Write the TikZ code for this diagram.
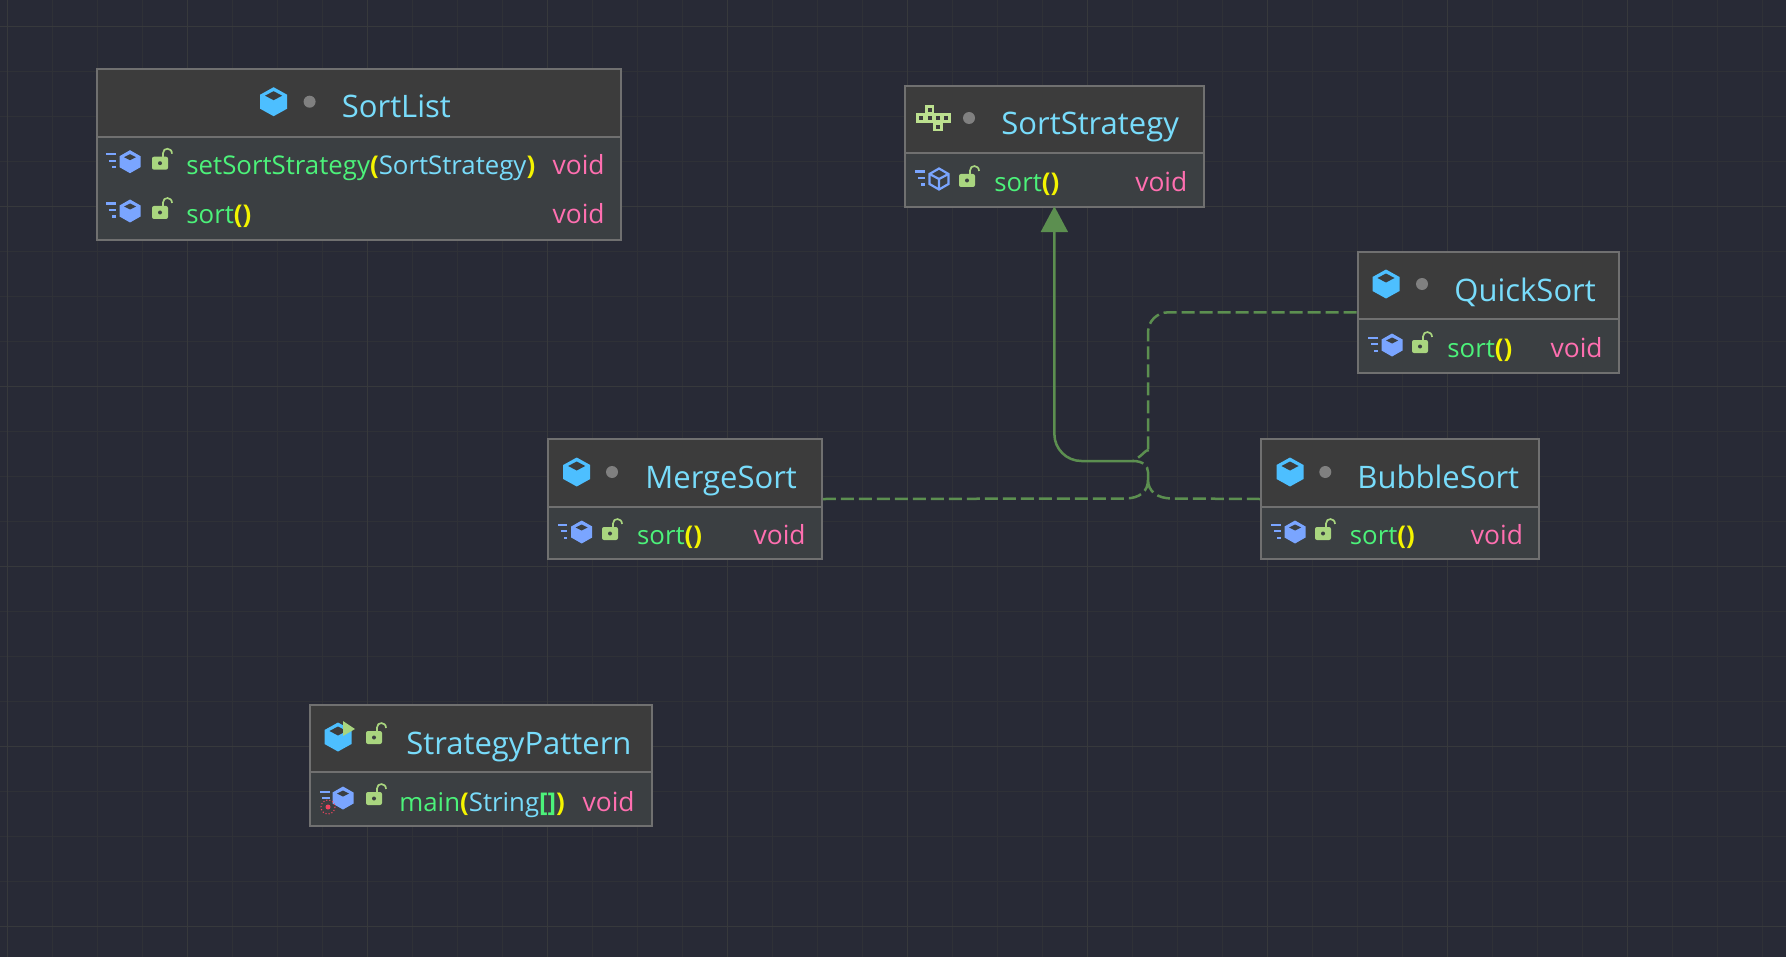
\documentclass[tikz,border=0pt]{standalone}
\usepackage{fontspec}
\setmainfont{Open Sans}
\usetikzlibrary{arrows.meta,fit}
\definecolor{bgc}{HTML}{282A36}
\definecolor{gridminor}{HTML}{2F3137}
\definecolor{gridmajor}{HTML}{37393C}
\definecolor{headc}{HTML}{3C3C3C}
\definecolor{bodyc}{HTML}{3B3F42}
\definecolor{borderc}{HTML}{707070}
\definecolor{namec}{HTML}{78DCFB}
\definecolor{methc}{HTML}{4CF27A}
\definecolor{voidc}{HTML}{FF6FB0}
\definecolor{yelc}{HTML}{F4F400}
\definecolor{edgec}{HTML}{5C8F50}
\definecolor{cubec}{HTML}{4DBFFF}
\definecolor{mcubec}{HTML}{7AA5FF}
\definecolor{lockc}{HTML}{A9D57F}
\definecolor{ifacec}{HTML}{BCE08F}
\definecolor{dotc}{HTML}{808080}
\definecolor{redc}{HTML}{F0445F}
\tikzset{
  x=0.5pt,y=-0.5pt,
  boxstyle/.style={draw=borderc,line width=1.15pt,inner sep=0pt,rectangle},
  titletext/.style={text=namec,font=\fontsize{15.5}{18}\selectfont,anchor=base west,inner sep=0pt,xshift=-0.5pt},
  rowtext/.style={text=methc,font=\fontsize{12.9}{16}\selectfont,anchor=base west,inner sep=0pt,xshift=-0.5pt,yshift=-0.5pt},
  voidtext/.style={text=voidc,font=\fontsize{13.2}{16}\selectfont,anchor=base east,inner sep=0pt,xshift=0.5pt,yshift=-0.5pt},
  edgeline/.style={draw=edgec,line width=1.25pt},
  dashedge/.style={edgeline,dash pattern=on 6.5pt off 2.5pt},
  classcube/.pic={
    \fill[cubec] (0,-14.5)--(13.5,-7)--(13.5,7)--(0,14.5)--(-13.5,7)--(-13.5,-7)--cycle;
    \fill[headc] (0,-10.5)--(8.5,-6)--(0,-1.5)--(-8.5,-6)--cycle;
  },
  graydot/.pic={\fill[dotc] (0,0) circle[radius=6];},
  bars/.pic={
    \fill[mcubec] (-24,-8.5) rectangle (-14.5,-6.2);
    \fill[mcubec] (-21,-2) rectangle (-14.5,0.3);
    \fill[mcubec] (-18,4.5) rectangle (-14.5,6.8);
  },
  methcube/.pic={
    \fill[mcubec] (0,-11.5)--(10.5,-5.5)--(10.5,5.5)--(0,11.5)--(-10.5,5.5)--(-10.5,-5.5)--cycle;
    \fill[bodyc] (0,-7.5)--(6,-4.5)--(0,-1.5)--(-6,-4.5)--cycle;
  },
  abscube/.pic={
    \draw[mcubec,line width=1.1pt] (0,-10.5)--(9.5,-5)--(9.5,5)--(0,10.5)--(-9.5,5)--(-9.5,-5)--cycle;
    \draw[mcubec,line width=1.1pt] (-9.5,-5)--(0,0)--(9.5,-5) (0,0)--(0,10.5);
  },
  lockicon/.pic={
    \draw[lockc,line width=0.85pt] (3,-5) -- (3,-9.5) .. controls (3,-15.5) and (12,-15.5) .. (12,-9);
    \fill[lockc,rounded corners=1pt] (-8,-6) rectangle (8,7);
    \fill[bodyc] (0,0.5) circle[radius=2];
  },
}
\newcommand{\classbox}[6]{% name,l,t,r,b,div
  \fill[bodyc] (#2,#3) rectangle (#4,#5);
  \fill[headc] (#2,#3) rectangle (#4,#6);
  \draw[borderc,line width=1.1pt] (#2,#6) -- (#4,#6);
  \coordinate (#1tl) at (#2,#3);
  \coordinate (#1br) at (#4,#5);
  \node[boxstyle,fit=(#1tl)(#1br)] (#1) {};
}
\newcommand{\callparens}{{\bfseries\color{yelc}()}}
\begin{document}
\begin{tikzpicture}
\useasboundingbox (0,0) rectangle (1786,957);
\fill[bgc] (0,0) rectangle (1786,957);
% grid
\foreach \k in {0,...,39} {
  \pgfmathsetmacro{\gx}{7.7+45*\k}
  \draw[gridminor,line width=0.5pt] (\gx,0) -- (\gx,957);
}
\foreach \k in {0,...,21} {
  \pgfmathsetmacro{\gy}{26.7+45*\k}
  \draw[gridminor,line width=0.5pt] (0,\gy) -- (1786,\gy);
}
\foreach \k in {0,...,9} {
  \pgfmathsetmacro{\gx}{7.7+180*\k}
  \draw[gridmajor,line width=0.5pt] (\gx,0) -- (\gx,957);
}
\foreach \k in {0,...,5} {
  \pgfmathsetmacro{\gy}{26.7+180*\k}
  \draw[gridmajor,line width=0.5pt] (0,\gy) -- (1786,\gy);
}
% boxes
\classbox{sortlist}{97}{69}{621}{240}{136.7}
\classbox{strategy}{904.7}{85.7}{1204}{206.7}{153}
\classbox{quick}{1357.7}{252}{1618.7}{372.7}{319}
\classbox{merge}{547.7}{439}{821.7}{559}{506.7}
\classbox{bubble}{1261}{439}{1539}{559}{506.7}
\classbox{pattern}{310}{705}{652}{826}{772}
% SortList
\pic at (273.6,101.7) {classcube};
\pic at (309.6,101.7) {graydot};
\node[titletext] (sortlisttitle) at (342.5,117.7) {SortList};
\pic at (130,161.7) {bars};
\pic at (130,161.7) {methcube};
\pic at (160,162.7) {lockicon};
\node[rowtext] (sortlistm1) at (187,174) {setSortStrategy{\bfseries\color{yelc}(}{\color{namec}SortStrategy}{\bfseries\color{yelc})}};
\node[voidtext] (sortlistv1) at (604,174) {void};
\pic at (130,211) {bars};
\pic at (130,211) {methcube};
\pic at (160,212) {lockicon};
\node[rowtext] (sortlistm2) at (187,222.7) {sort\callparens};
\node[voidtext] (sortlistv2) at (604,222.7) {void};
% SortStrategy
\begin{scope}[shift={(933.7,118.3)}]
  \foreach \cx/\cy in {-4.2/-8.3,-12.5/0,-4.2/0,4.2/0,12.5/0,4.2/8.3}
    \draw[ifacec,line width=1.4pt] (\cx-3.4,\cy-3.4) rectangle (\cx+3.4,\cy+3.4);
\end{scope}
\pic at (969,118) {graydot};
\node[titletext] (strategytitle) at (1002,134.3) {SortStrategy};
\pic at (939,179) {bars};
\pic at (939,179) {abscube};
\pic at (967,180) {lockicon};
\node[rowtext] (strategym) at (995,190.7) {sort\callparens};
\node[voidtext] (strategyv) at (1186.7,190.7) {void};
% QuickSort
\pic at (1386,284) {classcube};
\pic at (1422,284) {graydot};
\node[titletext] (quicktitle) at (1455,301) {QuickSort};
\pic at (1392,345) {bars};
\pic at (1392,345) {methcube};
\pic at (1420,346) {lockicon};
\node[rowtext] (quickm) at (1448,356.7) {sort\callparens};
\node[voidtext] (quickv) at (1602,356.7) {void};
% MergeSort
\pic at (576.7,472) {classcube};
\pic at (612,472) {graydot};
\node[titletext] (mergetitle) at (646,488.3) {MergeSort};
\pic at (581.7,532) {bars};
\pic at (581.7,532) {methcube};
\pic at (610,533) {lockicon};
\node[rowtext] (mergem) at (637.7,543.3) {sort\callparens};
\node[voidtext] (mergev) at (805,543.3) {void};
% BubbleSort
\pic at (1290,472) {classcube};
\pic at (1325.3,472) {graydot};
\node[titletext] (bubbletitle) at (1358,488.3) {BubbleSort};
\pic at (1295,532) {bars};
\pic at (1295,532) {methcube};
\pic at (1323,533) {lockicon};
\node[rowtext] (bubblem) at (1350.5,543.3) {sort\callparens};
\node[voidtext] (bubblev) at (1522.3,543.3) {void};
% StrategyPattern
\pic at (338,737) {classcube};
\fill[lockc] (343,721) -- (355,729) -- (343,736) -- cycle;
\pic at (374,737) {lockicon};
\node[titletext] (patterntitle) at (407,754) {StrategyPattern};
\pic at (343,798) {methcube};
\fill[mcubec] (320,790.5) rectangle (330,792.8);
\fill[mcubec] (322,797) rectangle (330,799.3);
\draw[redc,line width=0.55pt,densely dotted] (328,807) circle[radius=7];
\fill[redc] (328,807) circle[radius=2.5];
\pic at (374,798) {lockicon};
\node[rowtext] (patternm) at (400,810) {main{\bfseries\color{yelc}(}{\color{namec}String}{\bfseries\color{methc}[]}{\bfseries\color{yelc})}};
\node[voidtext] (patternv) at (634,810) {void};
% connectors
\coordinate (joinA) at (1133,461);
\coordinate (joinB) at (1148,480);
\coordinate (upturn) at (1148,433);
\coordinate (solidbend) at (strategy.south |- joinA);
\coordinate (quickbend) at (upturn |- quick.west);
\coordinate (mergeend) at (1125,498.5);
\coordinate (bubbleend) at (1172,498.5);
\coordinate (stubtop) at (1148,472);
\draw[edgeline,rounded corners=13.5pt,shorten >=-0.8pt,-{Triangle[length=13pt,width=13.5pt,fill=edgec]}] (joinA) -- (solidbend) -- (strategy.south);
\draw[dashedge,rounded corners=10pt] (quick.west) -- (quickbend) -- (upturn) [sharp corners] .. controls (1148,446) and (1144,455) .. (joinA);
\draw[dashedge] (merge.east) -- (mergeend) .. controls (1140,498.5) and (1148,491) .. (joinB);
\draw[dashedge] (bubble.west) -- (bubbleend) .. controls (1157,498.5) and (1148,491) .. (joinB);
\draw[dashedge] (joinB) -- (stubtop) .. controls (1148,466) and (1143,461) .. (joinA);
\end{tikzpicture}
\end{document}
